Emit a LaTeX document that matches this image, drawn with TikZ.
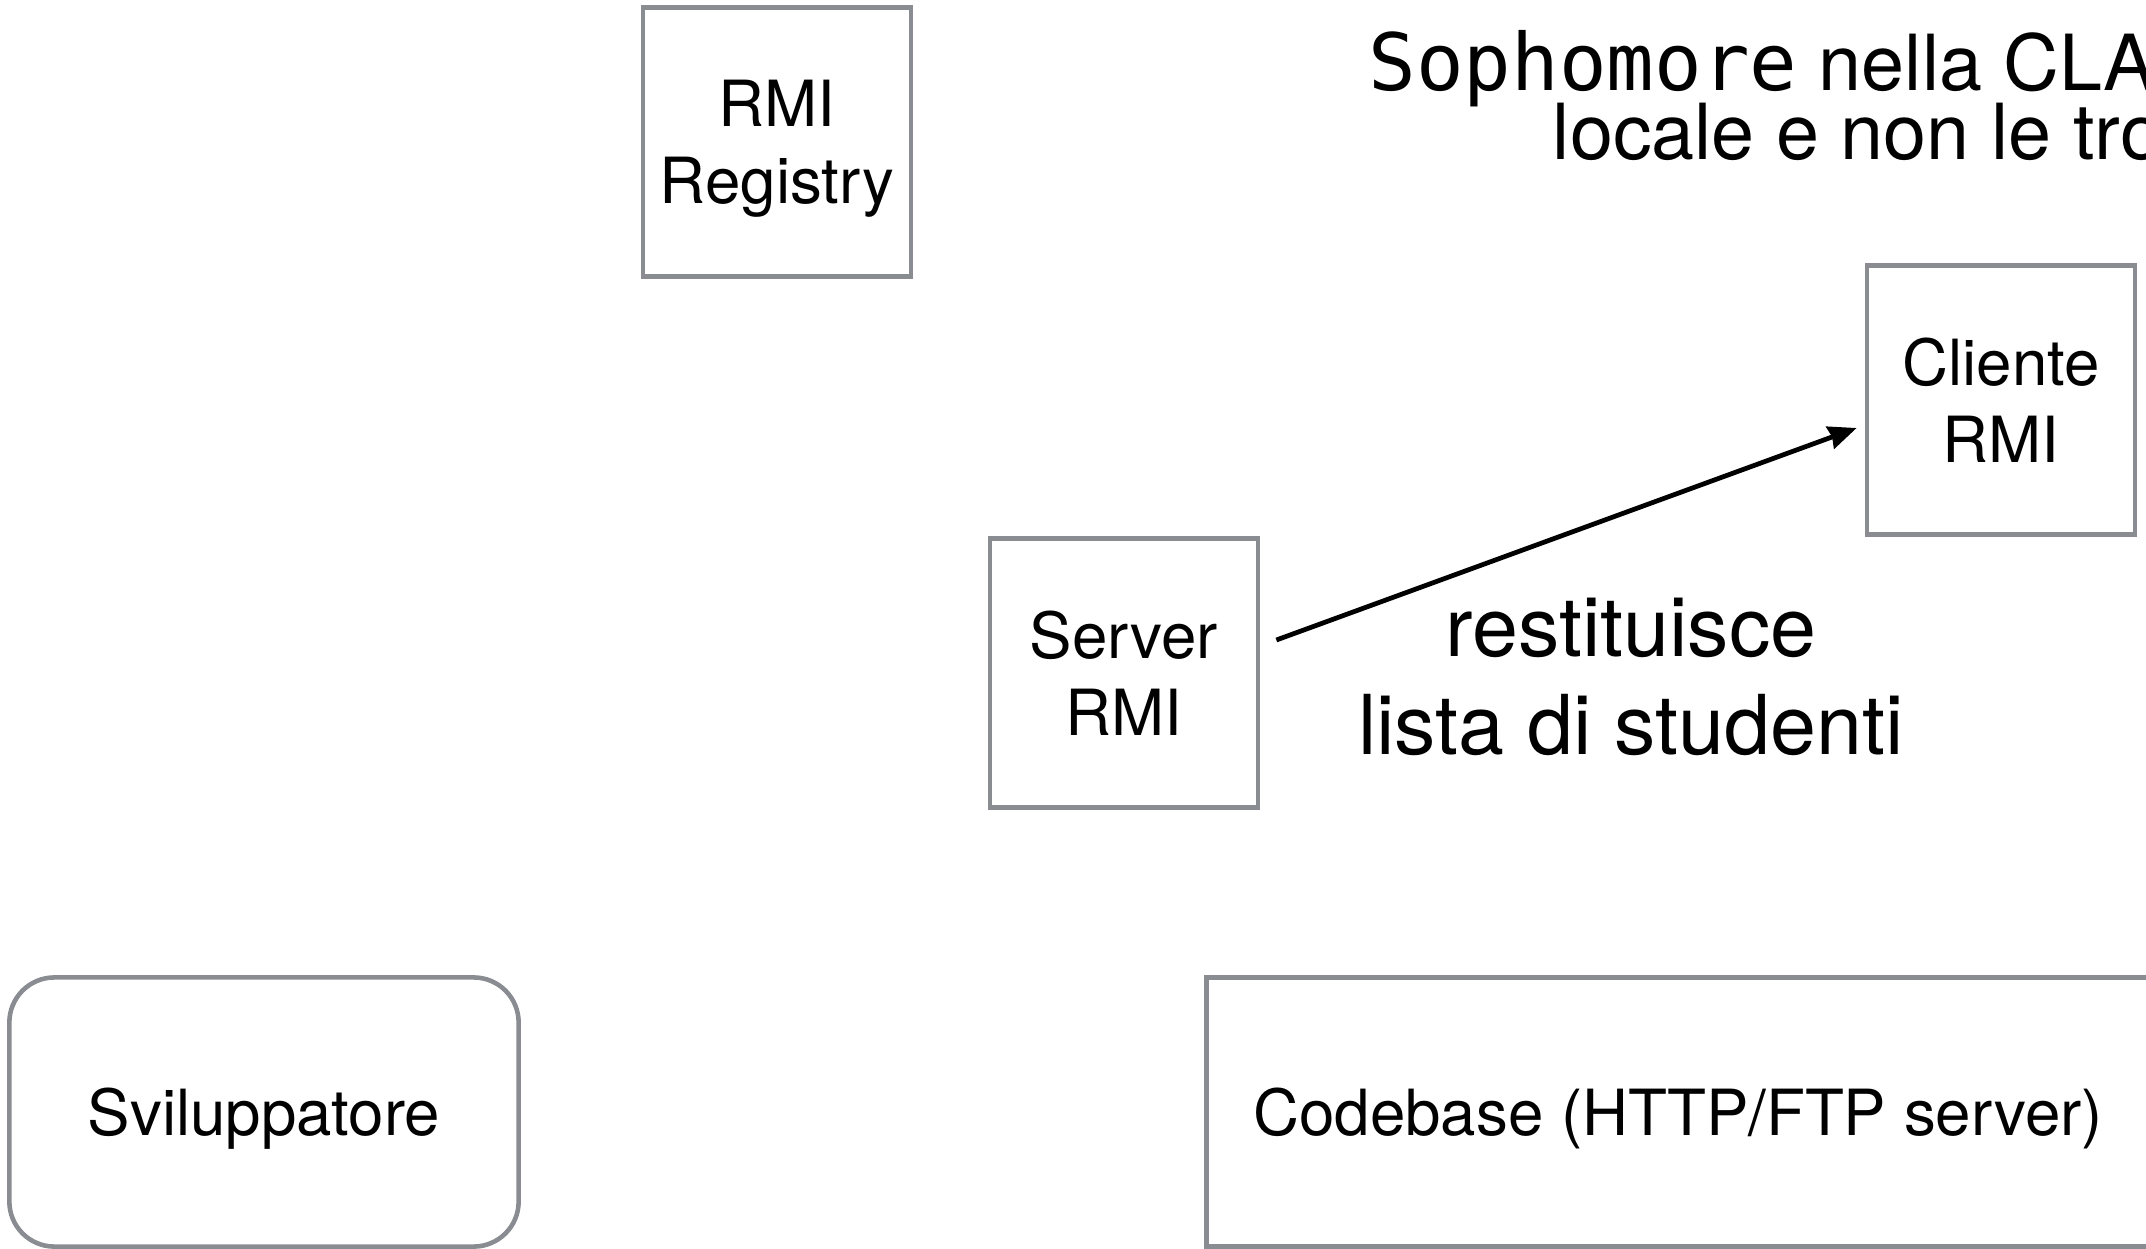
\documentclass[tikz,border=0pt]{standalone}
\usepackage{fontspec}
\setmainfont{TeX Gyre Heros}
\setmonofont{DejaVu Sans Mono}
\usepackage{xcolor}
\usetikzlibrary{arrows.meta}
\definecolor{boxgray}{HTML}{898C90}

\begin{document}
\begin{tikzpicture}[x=0.01cm,y=-0.01cm,>={Stealth[length=8pt,width=6.6pt,inset=0.6pt]},
    box/.style={draw=boxgray,line width=1.3pt,minimum width=2.68cm,minimum height=2.69cm,
      align=center,text depth=0pt,font=\fontsize{18.1}{22}\selectfont},
    big text/.style={align=center,font=\fontsize{23.5}{28}\selectfont}]
  \useasboundingbox (0,0) rectangle (2146,1249);
  \clip (0,0) rectangle (2146,1249);

  \node[box] (registry) at (777,142) {RMI\\Registry};
  \node[box] (cliente) at (2001,400) {Cliente\\RMI};
  \node[box] (server) at (1124,673) {Server\\RMI};
  \node[box,rounded corners=0.45cm,minimum width=5.09cm] (sviluppatore) at (264,1112) {Sviluppatore};
  \node[box,minimum width=9.42cm] (codebase) at (1678,1112) {Codebase (HTTP/FTP server)};

  \node[big text] (restituisce) at (1631,677) {restituisce\\lista di studenti};
  % titolo tagliato dal bordo destro
  \node[anchor=north west,inner sep=0pt,align=left,
        font={\fontsize{22}{19.4}\selectfont\lineskiplimit=-20pt\relax}] (titolo) at (1368,30)
    {{\fontsize{22.5}{19.4}\selectfont\ttfamily Sophomore} nella CLA\\\hspace*{1.84cm}locale e non le tro};

  \draw[->,line width=1.35pt] ([shift={(16,-33)}]server.east) -- ([shift={(-8,28)}]cliente.west);
\end{tikzpicture}
\end{document}
